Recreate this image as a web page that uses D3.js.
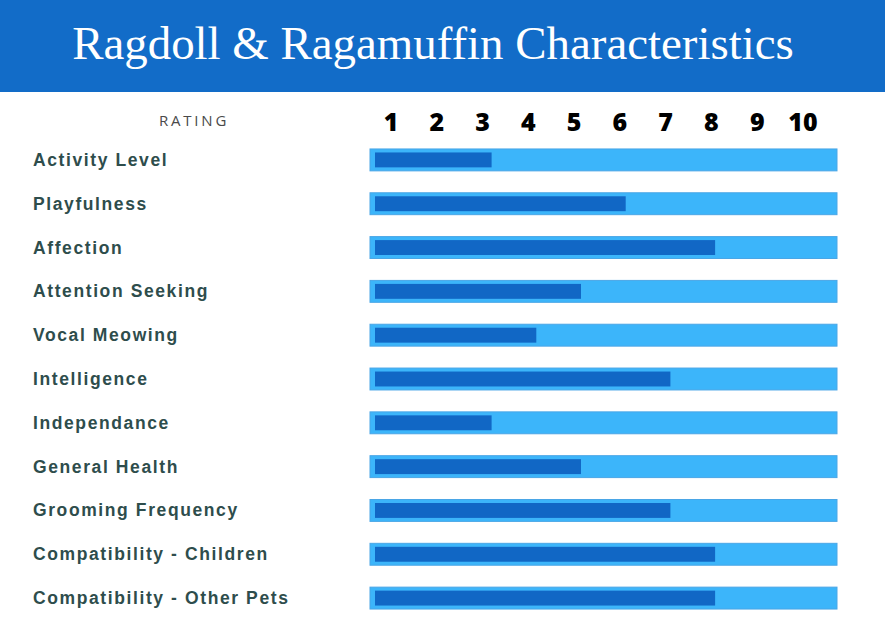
<!DOCTYPE html>
<html><head><meta charset="utf-8">
<script src="https://cdn.jsdelivr.net/npm/d3@7"></script>
<style>body{margin:0;background:#fff}svg{display:block}</style>
</head><body><svg id="c" width="885" height="628"></svg>
<script>
const title = "Ragdoll & Ragamuffin Characteristics";
const axisTitle = "RATING";
const categories = ["Activity Level","Playfulness","Affection","Attention Seeking","Vocal Meowing","Intelligence","Independance","General Health","Grooming Frequency","Compatibility - Children","Compatibility - Other Pets"];
const ratings = [3,6,8,5,4,7,3,5,7,8,8];
const tickLabels = [1,2,3,4,5,6,7,8,9,10];
const maxRating = 10;

const svg = d3.select("#c");
svg.append("rect").attr("x",0).attr("y",0).attr("width",885).attr("height",92).attr("fill","#126cc8");
const t = svg.append("text").attr("x",433).attr("y",59).attr("text-anchor","middle")
  .attr("fill","#fff").style("font-family","'Liberation Serif', serif").style("font-size","44px").text(title);
const w = t.node().getComputedTextLength();
t.style("font-size", (44*722/w)+"px");

svg.append("text").attr("x",194).attr("y",126).attr("text-anchor","middle")
  .attr("fill","#4a4a4a").style("font-family","'Open Sans', sans-serif").style("font-size","15px")
  .style("letter-spacing","2.8px").text(axisTitle);

const tickX = d3.scaleLinear().domain([1,10]).range([391,803]);
svg.append("g").selectAll("text").data(tickLabels).join("text")
  .attr("x",d=>tickX(d)).attr("y",131).attr("text-anchor","middle")
  .attr("fill","#000").style("font-family","'Open Sans', sans-serif").style("font-weight","800")
  .style("font-size","25px").text(d=>d);

const y = d3.scaleBand().domain(categories).range([138,620]).paddingInner(0.5).paddingOuter(0.25);
const x = d3.scaleLinear().domain([0,maxRating]).range([357.5,804.5]);
const bgX0 = 370, bgX1 = 837;

const rows = svg.append("g").selectAll("g").data(categories).join("g");
rows.append("rect").attr("x",bgX0).attr("y",d=>y(d)).attr("width",bgX1-bgX0).attr("height",y.bandwidth())
  .attr("fill","#3cb5fa").attr("stroke","#4aa6e6").attr("stroke-width",1);
rows.append("rect").attr("x",bgX0+5).attr("y",d=>y(d)+3.5)
  .attr("width",(d,i)=>x(ratings[i])-bgX0-5).attr("height",y.bandwidth()-7)
  .attr("fill","#1167c5");
rows.append("text").attr("x",33).attr("y",d=>y(d)+y.bandwidth()/2+6)
  .attr("fill","#2e4d4c").style("font-family","'Liberation Sans', Arial, sans-serif")
  .style("font-weight","bold").style("font-size","17.5px").style("letter-spacing","1.6px").text(d=>d);
</script></body></html>
